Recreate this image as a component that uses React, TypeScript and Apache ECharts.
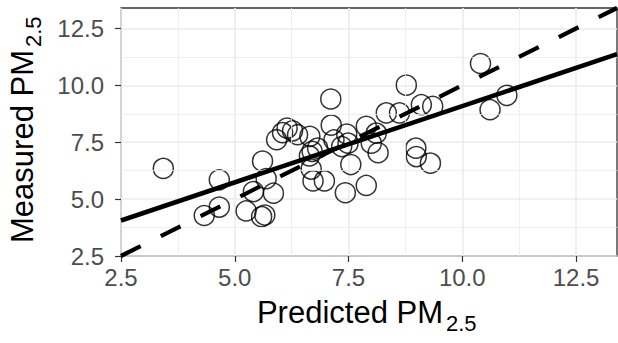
import React, { useEffect, useRef } from "react";
import * as echarts from "echarts";

const predicted = [
  3.43, 4.33, 4.66, 4.66, 5.25, 5.41, 5.59, 5.66, 5.61, 5.69, 5.85, 5.92, 6.05, 6.15, 6.27, 6.38,
  6.65, 6.64, 6.68, 6.72, 6.82, 6.97, 7.11, 7.12, 7.18, 7.35, 7.46, 7.49, 7.55, 7.43, 7.89, 7.89,
  8.0, 8.11, 8.15, 8.33, 8.62, 8.77, 8.98, 8.99, 9.1, 9.35, 9.3, 10.4, 10.61, 10.98, 6.7,
];
const measured = [
  6.35, 4.28, 4.65, 5.85, 4.48, 5.33, 4.23, 4.3, 6.67, 5.9, 5.26, 7.61, 7.92, 8.12, 8.0, 7.83,
  7.76, 6.9, 6.32, 5.8, 7.24, 5.8, 9.4, 8.25, 7.6, 7.31, 7.86, 7.46, 6.52, 5.28, 5.6, 8.2,
  7.46, 7.9, 7.04, 8.79, 8.79, 10.01, 7.24, 6.87, 9.15, 9.08, 6.58, 10.96, 8.93, 9.56, 7.1,
];
const fitLine = [
  [2.5, 4.06],
  [13.4, 11.37],
];
const identityLine = [
  [2.5, 2.5],
  [13.4, 13.4],
];
const majorTicks = [2.5, 5.0, 7.5, 10.0, 12.5];
const minorTicks = [3.75, 6.25, 8.75, 11.25];
const axisMin = 2.5;
const axisMax = 13.4;

const FONT = "Liberation Sans, Arial, sans-serif";

export default function App() {
  const ref = useRef<HTMLDivElement>(null);
  useEffect(() => {
    if (!ref.current) return;
    const chart = echarts.init(ref.current, undefined, { renderer: "svg" });
    const axisCommon = (isX: boolean) => ({
      type: "value",
      min: axisMin,
      max: axisMax,
      interval: 2.5,
      axisLine: { show: false },
      axisTick: {
        show: true,
        length: 6,
        lineStyle: { color: "#333333", width: 1.2 },
        customValues: majorTicks,
      },
      axisLabel: {
        show: true,
        customValues: majorTicks,
        formatter: (v: number) => v.toFixed(1),
        color: "#4d4d4d",
        fontSize: 24,
        fontFamily: FONT,
        margin: isX ? 9 : 17,
      },
      splitLine: { show: true, lineStyle: { color: "#ebebeb", width: 1.6 } },
      minorSplitLine: { show: false },
    });
    const minorMarks = [
      ...minorTicks.map((v) => ({ xAxis: v })),
      ...minorTicks.map((v) => ({ yAxis: v })),
    ];
    chart.setOption({
      animation: false,
      grid: {
        left: 121,
        top: 8,
        right: 1,
        bottom: 87,
        show: true,
        borderColor: "#333333",
        borderWidth: 1.3,
        backgroundColor: "#ffffff",
      },
      xAxis: axisCommon(true),
      yAxis: axisCommon(false),
      graphic: [
        {
          type: "text",
          x: 443,
          y: 312.6,
          style: {
            text: "Predicted PM",
            fontSize: 31,
            fontFamily: FONT,
            fill: "#000",
            align: "right",
            verticalAlign: "middle",
          },
        },
        {
          type: "text",
          x: 446,
          y: 323.3,
          style: {
            text: "2.5",
            fontSize: 22,
            fontFamily: FONT,
            fill: "#000",
            align: "left",
            verticalAlign: "middle",
          },
        },
        {
          type: "text",
          x: 22.6,
          y: 50,
          rotation: Math.PI / 2,
          style: {
            text: "Measured PM",
            fontSize: 31,
            fontFamily: FONT,
            fill: "#000",
            align: "right",
            verticalAlign: "middle",
          },
        },
        {
          type: "text",
          x: 33.4,
          y: 47,
          rotation: Math.PI / 2,
          style: {
            text: "2.5",
            fontSize: 22,
            fontFamily: FONT,
            fill: "#000",
            align: "left",
            verticalAlign: "middle",
          },
        },
      ],
      series: [
        {
          type: "scatter",
          data: [],
          z: 1,
          silent: true,
          markLine: {
            silent: true,
            symbol: "none",
            label: { show: false },
            lineStyle: { color: "#ebebeb", width: 0.8, type: "solid" },
            data: minorMarks,
          },
        },
        {
          type: "scatter",
          data: predicted.map((x, i) => [x, measured[i]]),
          symbol: "circle",
          symbolSize: 20,
          itemStyle: { color: "rgba(0,0,0,0)", borderColor: "#000", borderWidth: 1.5 },
          z: 3,
        },
        {
          type: "scatter",
          data: [],
          z: 4,
          silent: true,
          markLine: {
            silent: true,
            symbol: "none",
            label: { show: false },
            lineStyle: { color: "#000", width: 4.2, type: [22, 22.5], cap: "butt" },
            data: [
              [
                { coord: identityLine[0] },
                { coord: identityLine[1] },
              ],
            ],
          },
        },
        {
          type: "line",
          data: fitLine,
          showSymbol: false,
          lineStyle: { color: "#000", width: 4.6, type: "solid" },
          z: 5,
        },
      ],
    });
    return () => chart.dispose();
  }, []);
  return (
    <div
      ref={ref}
      style={{ position: "fixed", left: 0, top: 0, width: 618, height: 343, background: "#fff" }}
    />
  );
}
